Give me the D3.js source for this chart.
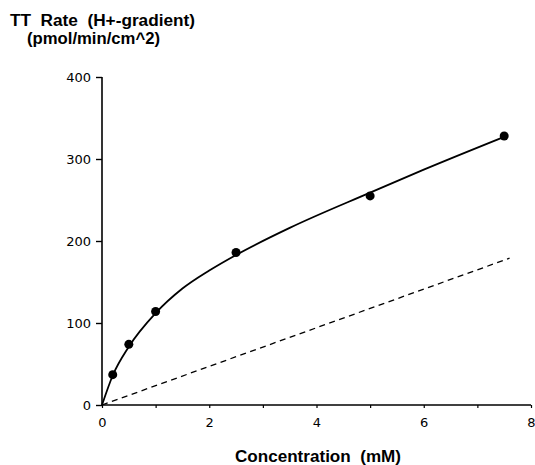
<!DOCTYPE html>
<html>
<head>
<meta charset="utf-8">
<script src="https://cdn.jsdelivr.net/npm/d3@7"></script>
<style>
  html, body { margin: 0; padding: 0; background: #fff; }
  svg { display: block; }
</style>
</head>
<body>
<svg id="chart" width="535" height="465"></svg>
<script>
// Measured transport rates
const concentration = [0.2, 0.5, 1, 2.5, 5, 7.5];
const rate = [37, 74, 114, 186, 255, 328];

// Fitted total curve (saturable + linear), traced values
const fitConc = [0, 0.2, 0.5, 1, 1.5, 2, 2.5, 3.5, 5, 6, 7.5];
const fitRate = [0, 36, 71, 112, 142, 164, 183, 216, 259, 287, 327];

// Linear (non-saturable) component
const linearConc = [0, 7.6];
const linearRate = [0, 179];

// Axis ticks
const xTicks = [0, 1, 2, 3, 4, 5, 6, 7, 8];
const xTickLabels = [0, 2, 4, 6, 8];
const yTicks = [0, 100, 200, 300, 400];

const svg = d3.select("#chart");

const x = d3.scaleLinear().domain([0, 8]).range([102, 531]);
const y = d3.scaleLinear().domain([0, 400]).range([405, 77]);

const tickFont = "'DejaVu Sans', sans-serif";
const boldFont = "'Liberation Sans', Arial, sans-serif";

// Y axis
const yAxis = d3.axisLeft(y).tickValues(yTicks).tickSize(6).tickPadding(5).tickFormat(d3.format("d"));
const gy = svg.append("g").attr("transform", `translate(${x(0)},0)`).call(yAxis);
gy.select(".domain").attr("d", `M0,${y(400)}V${y(0)}`).attr("stroke", "#000").attr("stroke-width", 1.6);
gy.selectAll(".tick line").attr("stroke", "#000").attr("stroke-width", 1.4);
gy.selectAll(".tick text").attr("font-family", tickFont).attr("font-size", 13).attr("fill", "#000");

// X axis
const xAxis = d3.axisBottom(x).tickValues(xTicks).tickSize(3).tickPadding(10)
  .tickFormat(d => xTickLabels.includes(d) ? d3.format("d")(d) : "");
const gx = svg.append("g").attr("transform", `translate(0,${y(0)})`).call(xAxis);
gx.select(".domain").attr("d", `M${x(0)},0H${x(8)}`).attr("stroke", "#000").attr("stroke-width", 1.6);
gx.selectAll(".tick line").attr("stroke", "#000").attr("stroke-width", 1.2);
gx.selectAll(".tick text").attr("font-family", tickFont).attr("font-size", 13).attr("fill", "#000");

// Linear component (dashed)
const lineGen = d3.line().x(d => x(d[0])).y(d => y(d[1]));
svg.append("path")
  .datum(d3.zip(linearConc, linearRate))
  .attr("d", lineGen)
  .attr("fill", "none")
  .attr("stroke", "#000")
  .attr("stroke-width", 1.3)
  .attr("stroke-dasharray", "6,4.5");

// Total fitted curve (solid)
svg.append("path")
  .datum(d3.zip(fitConc, fitRate))
  .attr("d", lineGen.curve(d3.curveMonotoneX))
  .attr("fill", "none")
  .attr("stroke", "#000")
  .attr("stroke-width", 1.8);

// Data points
svg.append("g").selectAll("circle")
  .data(d3.zip(concentration, rate))
  .join("circle")
  .attr("cx", d => x(d[0]))
  .attr("cy", d => y(d[1]))
  .attr("r", 4.5)
  .attr("fill", "#000");

// Y axis title (two lines, top left)
svg.append("text")
  .attr("x", 10).attr("y", 26)
  .attr("font-family", boldFont).attr("font-weight", "bold").attr("font-size", 16)
  .attr("textLength", 185).attr("lengthAdjust", "spacingAndGlyphs")
  .attr("xml:space", "preserve")
  .text("TT  Rate  (H+-gradient)");
svg.append("text")
  .attr("x", 27).attr("y", 44)
  .attr("font-family", boldFont).attr("font-weight", "bold").attr("font-size", 16)
  .attr("textLength", 133).attr("lengthAdjust", "spacingAndGlyphs")
  .text("(pmol/min/cm^2)");

// X axis title
svg.append("text")
  .attr("x", 318).attr("y", 462)
  .attr("text-anchor", "middle")
  .attr("font-family", boldFont).attr("font-weight", "bold").attr("font-size", 16)
  .attr("textLength", 166).attr("lengthAdjust", "spacingAndGlyphs")
  .attr("xml:space", "preserve")
  .text("Concentration  (mM)");
</script>
</body>
</html>
